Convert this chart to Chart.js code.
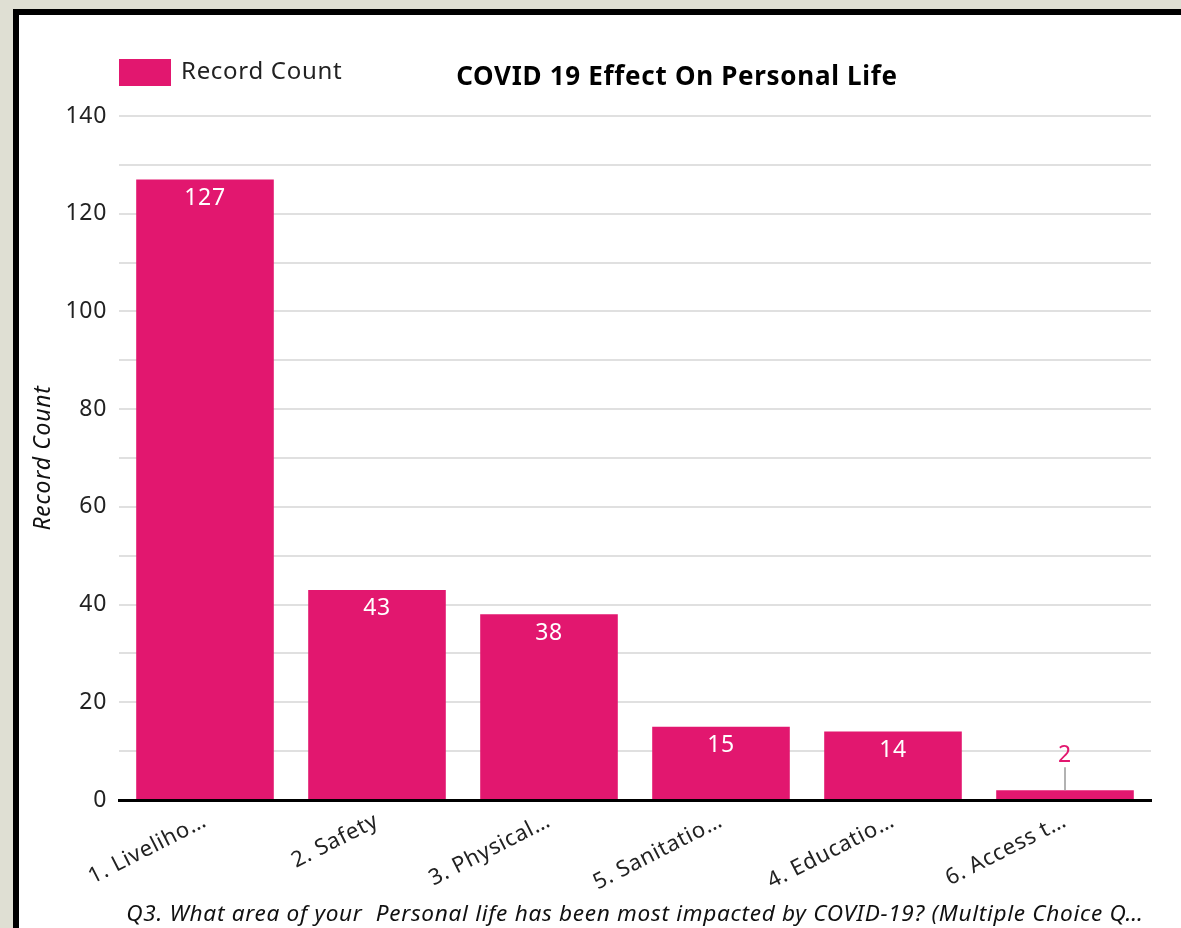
<!DOCTYPE html>
<html>
<head>
<meta charset="utf-8">
<script src="https://cdn.jsdelivr.net/npm/chart.js@4"></script>
<style>
  html, body { margin: 0; padding: 0; background: #dfdfd3; overflow: hidden; }
  #frame {
    position: absolute; left: 13px; top: 9px; width: 1200px; height: 960px;
    border-left: 6px solid #000; border-top: 6px solid #000; background: #fff;
  }
  #wrap { position: absolute; left: 0; top: 0; width: 1181px; height: 928px; }
</style>
</head>
<body>
<div id="frame"></div>
<div id="wrap"><canvas id="myChart" width="1181" height="928"></canvas></div>
<script>
const categorias = ['1. Liveliho…', '2. Safety', '3. Physical…', '5. Sanitatio…', '4. Educatio…', '6. Access t…'];
const contagens = [127, 43, 38, 15, 14, 2];
const tituloGrafico = 'COVID 19 Effect On Personal Life';
const nomeSerie = 'Record Count';
const tituloX = 'Q3. What area of your  Personal life has been most impacted by COVID-19? (Multiple Choice Q…';
const tituloY = 'Record Count';
const corBarra = '#e2176f';
const fonte = "'Noto Sans', 'Open Sans', sans-serif";
const espacamento = '0.7px';

// o resize do canvas zera o estado do contexto, entao reaplica aqui
const espacar = {
    id: 'espacar',
    beforeUpdate(chart) { chart.ctx.letterSpacing = espacamento; },
    beforeDraw(chart) { chart.ctx.letterSpacing = espacamento; }
};

// titulo + legenda desenhados a mao
const cabecalho = {
    id: 'cabecalho',
    afterDraw(chart) {
        const c = chart.ctx;
        c.save();
        c.fillStyle = corBarra;
        c.fillRect(119, 59, 52, 27);
        c.fillStyle = '#222';
        c.font = '24px ' + fonte;
        c.textBaseline = 'middle';
        c.textAlign = 'left';
        c.fillText(nomeSerie, 181, 72);
        c.font = 'bold 26px ' + fonte;
        c.textAlign = 'center';
        c.fillStyle = '#000';
        c.fillText(tituloGrafico, 677, 78);
        c.restore();
    }
};

// rotulos dos valores
const rotulos = {
    id: 'rotulos',
    afterDatasetsDraw(chart) {
        const c = chart.ctx;
        const meta = chart.getDatasetMeta(0);
        c.save();
        c.font = '23px ' + fonte;
        c.textAlign = 'center';
        c.textBaseline = 'middle';
        meta.data.forEach(function (bar, i) {
            const alt = bar.base - bar.y;
            if (alt > 30) {
                c.fillStyle = '#fff';
                c.fillText(String(contagens[i]), bar.x, bar.y + 19);
            } else {
                // barra muito baixa: rotulo por cima com tracinho
                c.strokeStyle = '#999';
                c.lineWidth = 1.5;
                c.beginPath();
                c.moveTo(bar.x, bar.y);
                c.lineTo(bar.x, bar.y - 23);
                c.stroke();
                c.fillStyle = corBarra;
                c.fillText(String(contagens[i]), bar.x, bar.y - 35);
            }
        });
        c.restore();
    }
};

const ctx = document.getElementById('myChart').getContext('2d');

const myChart = new Chart(ctx, {
    type: 'bar',
    data: {
        labels: categorias,
        datasets: [{
            label: nomeSerie,
            data: contagens,
            backgroundColor: corBarra,
            borderWidth: 0,
            barPercentage: 0.8,
            categoryPercentage: 1
        }]
    },
    plugins: [espacar, cabecalho, rotulos],
    options: {
        responsive: false,
        animation: false,
        layout: { padding: { top: 116, right: 30, left: 30, bottom: 0 } },
        plugins: {
            legend: { display: false },
            title: { display: false },
            tooltip: { enabled: false }
        },
        scales: {
            x: {
                grid: { display: false },
                border: { display: true, color: '#000', width: 3 },
                ticks: {
                    color: '#222',
                    font: { family: fonte, size: 22 },
                    maxRotation: 27,
                    minRotation: 27,
                    padding: 0,
                    autoSkip: false
                },
                title: {
                    display: true,
                    text: tituloX,
                    color: '#111',
                    font: { family: fonte, size: 22.6, style: 'italic' },
                    padding: { top: 0, bottom: 0 }
                },
                afterFit: function (s) { s.height = 128; }
            },
            y: {
                min: 0,
                max: 140,
                border: { display: false },
                grid: { color: '#e0e0e0', lineWidth: 2, drawTicks: false },
                ticks: {
                    stepSize: 10,
                    padding: 12,
                    color: '#222',
                    font: { family: fonte, size: 23 },
                    callback: function (v) { return v % 20 === 0 ? v : ''; }
                },
                title: {
                    display: true,
                    text: tituloY,
                    color: '#111',
                    font: { family: fonte, size: 23, style: 'italic' },
                    padding: 0
                },
                afterFit: function (s) { s.width = 89; }
            }
        }
    }
});
</script>
</body>
</html>
